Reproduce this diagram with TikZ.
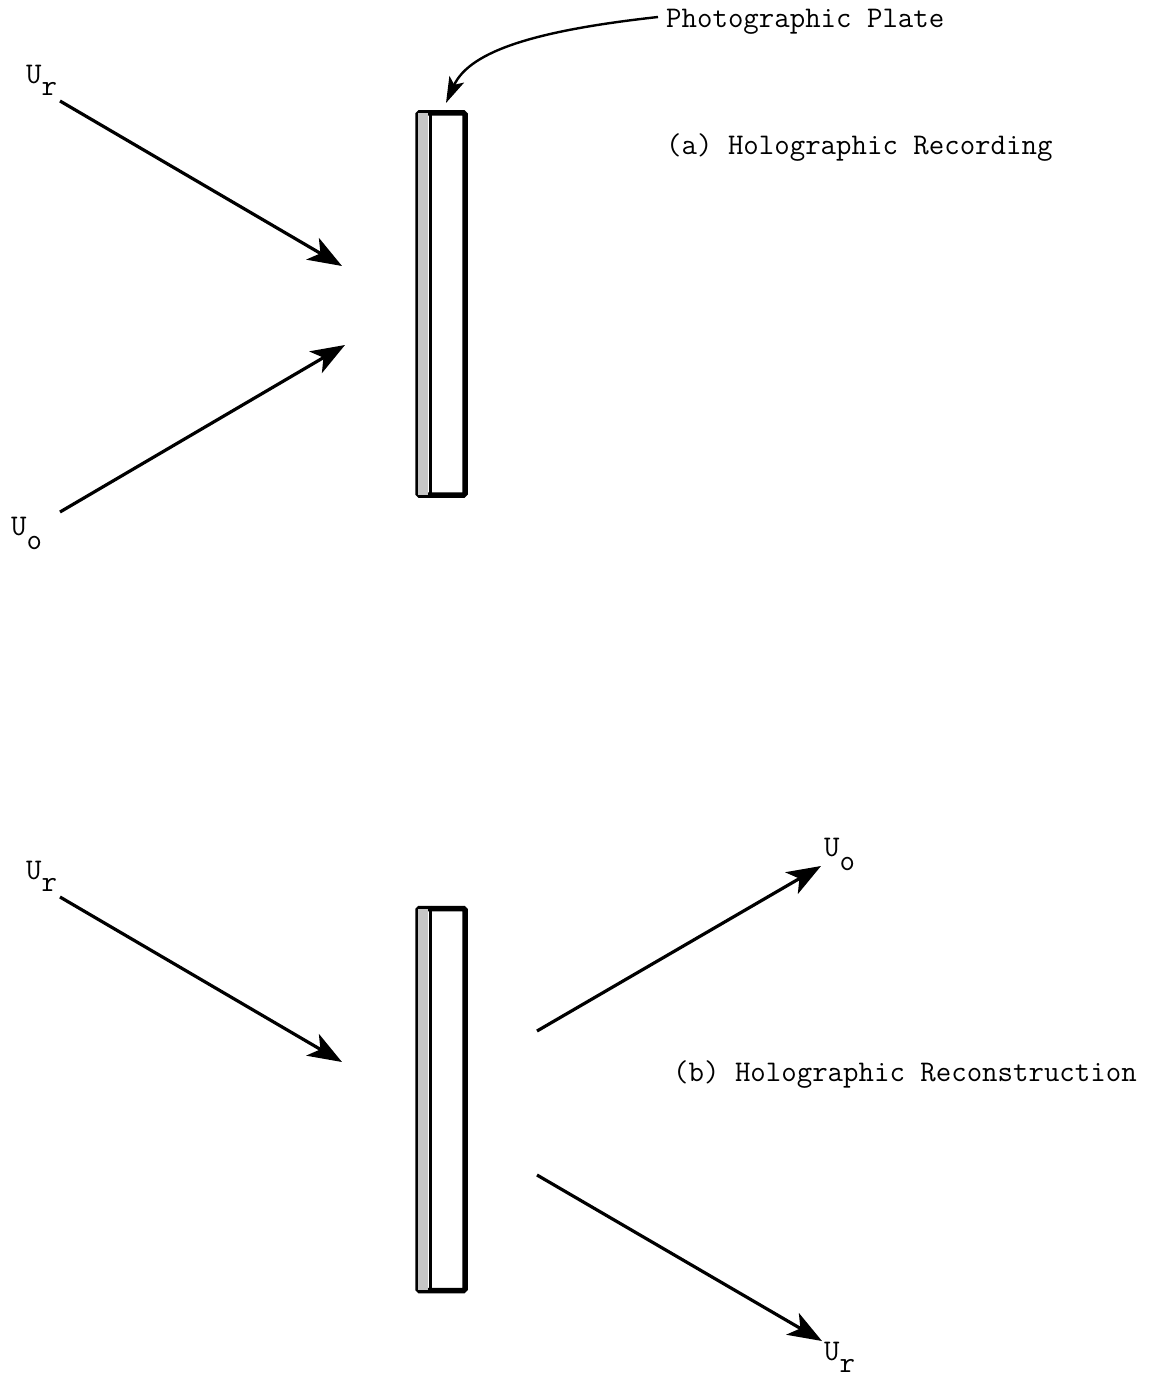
\documentclass[tikz,border=0pt]{standalone}
\usepackage{fontspec}
\usetikzlibrary{arrows.meta}
\begin{document}
\begin{tikzpicture}[x=1pt,y=-1pt,
  txt/.style={font=\ttfamily\fontsize{30}{33}\selectfont, inner sep=0pt, anchor=west},
  beam/.style={line width=3.2pt, -{Stealth[length=34pt,width=25pt,inset=9pt]}},
  plate/.style={draw, line width=5.5pt, rounded corners=1.5pt, minimum width=47pt, minimum height=382pt, inner sep=0pt},
  pointer/.style={line width=2.4pt, -{Stealth[length=26pt,width=16pt,inset=6pt]}}
]
\useasboundingbox (0,0) rectangle (1153,1383);

% ---------- (a) recording ----------
\node[plate] (plateA) at (441.5,304) {};
\fill[gray!45] ([xshift=3pt,yshift=-3pt]plateA.north west) rectangle ([xshift=13pt,yshift=3pt]plateA.south west);
\draw[line width=3.4pt] ([xshift=15pt]plateA.north west) -- ([xshift=15pt]plateA.south west);

\node[txt] (plabel) at (666,22) {Photographic Plate};
\coordinate (ptip) at (446,103);
\draw[pointer] ([xshift=-8pt,yshift=5pt]plabel.west) .. controls (540,30) and (470,50) .. (ptip);

\node[txt] (reca) at (666,148) {(a) Holographic Recording};

\node[txt] (urA) at (26,80) {U\raisebox{-12pt}{r}};
\coordinate (urAs) at (60,101);
\coordinate (urAe) at (342,266);
\draw[beam] (urAs) -- (urAe);

\node[txt] (uoA) at (11,533) {U\raisebox{-14pt}{o}};
\coordinate (uoAs) at (60,512);
\coordinate (uoAe) at (345,345);
\draw[beam] (uoAs) -- (uoAe);

% ---------- (b) reconstruction ----------
\node[plate] (plateB) at (441.5,1099.5) {};
\fill[gray!45] ([xshift=3pt,yshift=-3pt]plateB.north west) rectangle ([xshift=13pt,yshift=3pt]plateB.south west);
\draw[line width=3.4pt] ([xshift=15pt]plateB.north west) -- ([xshift=15pt]plateB.south west);

\node[txt] (recb) at (673,1075) {(b) Holographic Reconstruction};

\node[txt] (urB) at (26,876) {U\raisebox{-12pt}{r}};
\coordinate (urBs) at (60,897);
\coordinate (urBe) at (342,1062);
\draw[beam] (urBs) -- (urBe);

\node[txt] (uoB) at (824,854) {U\raisebox{-14pt}{o}};
\coordinate (uoBs) at (537,1031);
\coordinate (uoBe) at (821,866);
\draw[beam] (uoBs) -- (uoBe);

\node[txt] (urC) at (824,1357) {U\raisebox{-12pt}{r}};
\coordinate (urCs) at (537,1175);
\coordinate (urCe) at (822,1341);
\draw[beam] (urCs) -- (urCe);
\end{tikzpicture}
\end{document}
